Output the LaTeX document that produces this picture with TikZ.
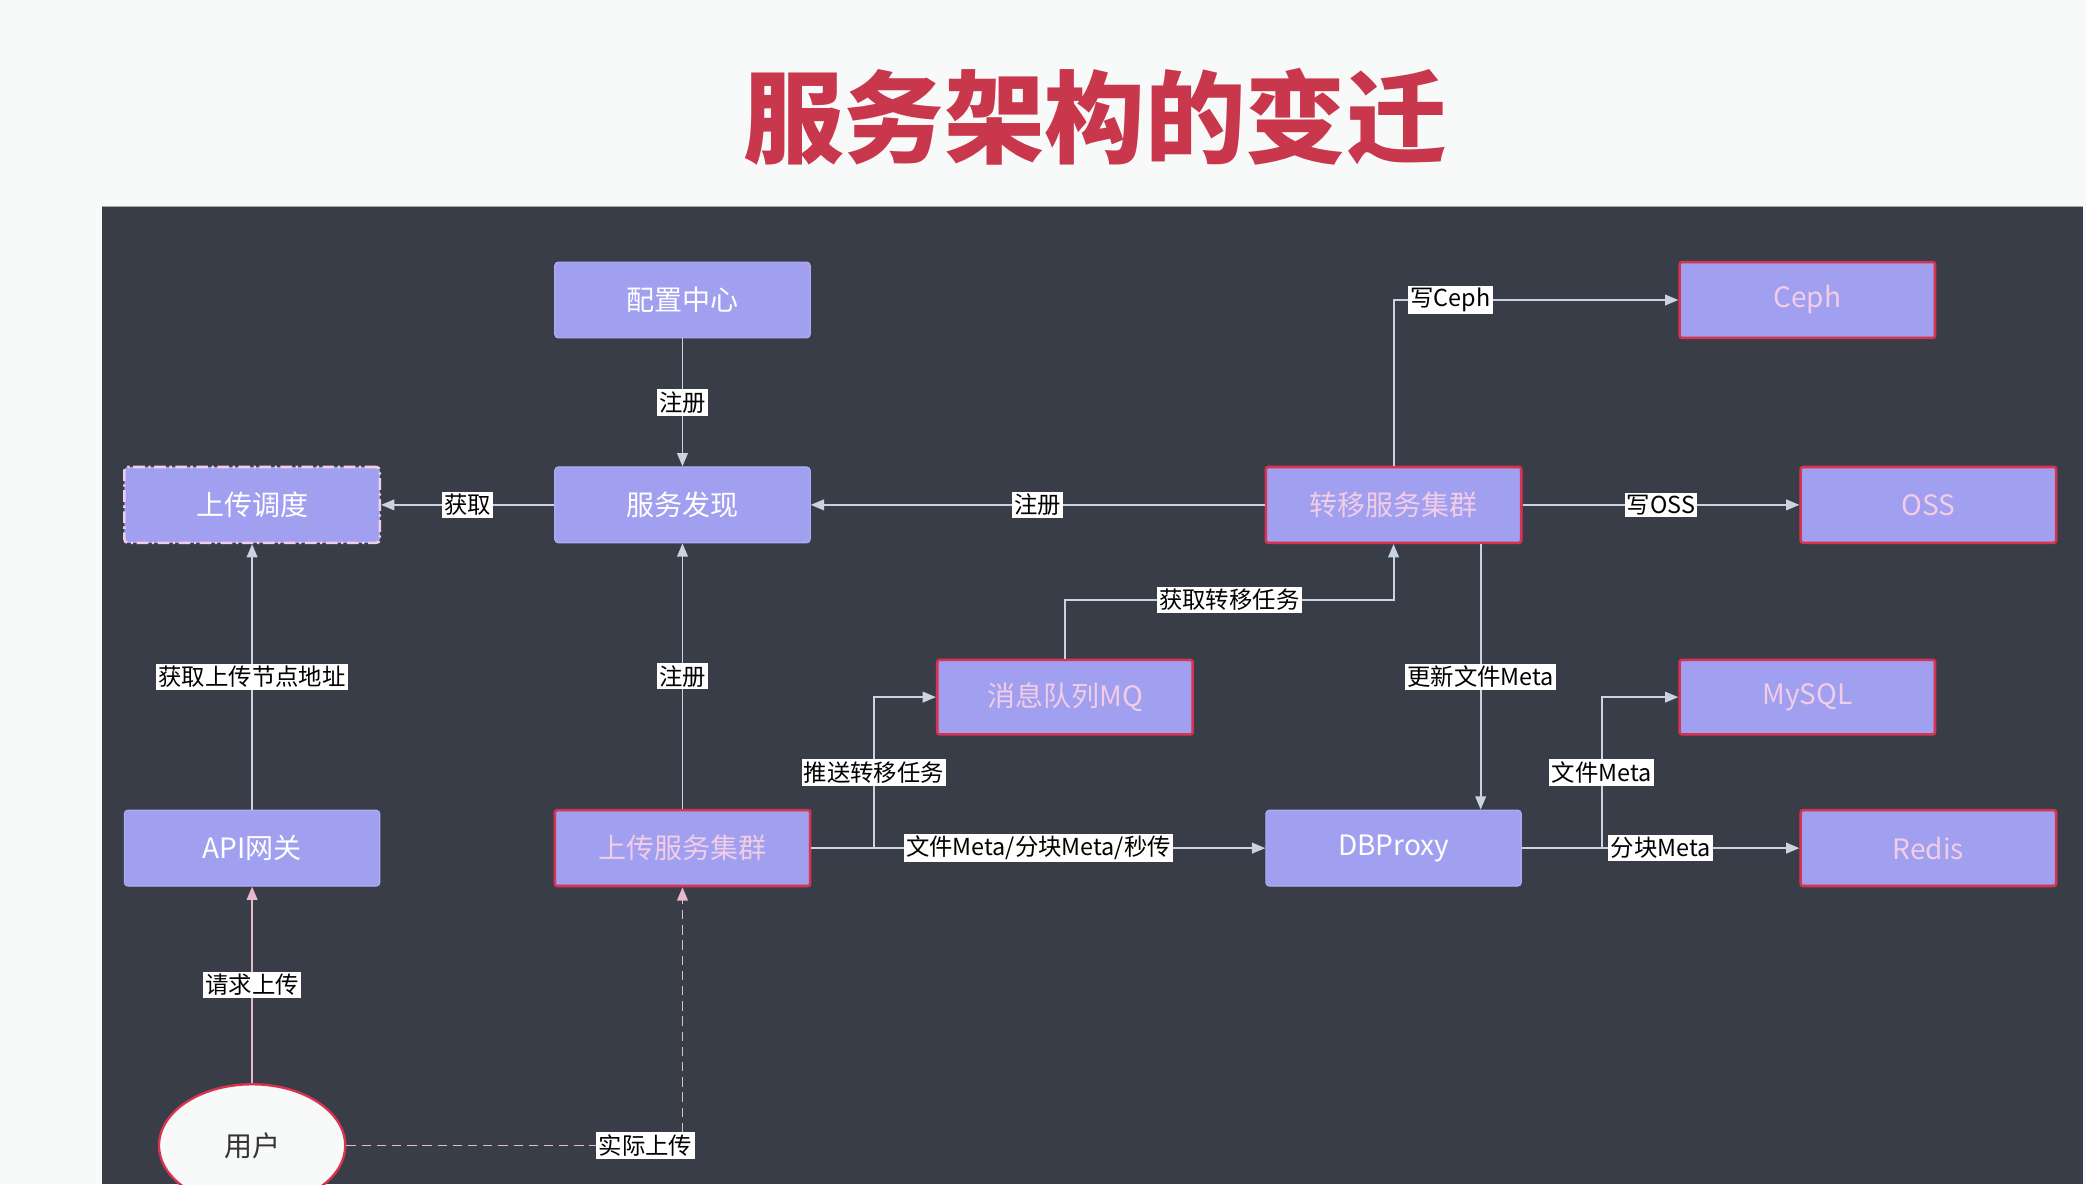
\documentclass[tikz,border=0pt]{standalone}
\usepackage{fontspec}
\setmainfont{Noto Sans CJK SC}
\usepackage{tikz}
\usetikzlibrary{positioning,arrows.meta,calc,shapes.geometric}
\definecolor{panelbg}{HTML}{393D48}
\definecolor{pagebg}{HTML}{F8FAF9}
\definecolor{boxfill}{HTML}{A09FF0}
\definecolor{boxred}{HTML}{D8344F}
\definecolor{boxpink}{HTML}{F2CDE6}
\definecolor{linecol}{HTML}{C9D3E2}
\definecolor{linepink}{HTML}{E6B9CB}
\definecolor{titlered}{HTML}{C8374C}

\begin{document}
\begin{tikzpicture}[
  x=0.02cm, y=-0.02cm,
  svc/.style={draw=boxfill!85!white, line width=0.5pt, rounded corners=1.5pt, fill=boxfill, text=white, minimum width=3.84cm, minimum height=1.14cm, inner sep=0pt, font=\fontsize{12}{14}\selectfont},
  svcr/.style={svc, draw=boxred, line width=1.1pt, rounded corners=1pt, text=boxpink},
  lbl/.style={fill=white, text=black, inner sep=1pt, font=\fontsize{10}{11}\selectfont},
  ar/.style={draw=linecol, line width=0.8pt, -{Triangle[length=2mm,width=1.6mm]}},
  arp/.style={ar, draw=linepink},
]
\clip (0,0) rectangle (1568,890);
\fill[pagebg] (0,0) rectangle (1568,890);
\fill[panelbg] (77,155) rectangle (1566,890);
\draw[gray!70, line width=0.6pt] (77,155) -- (1566,155);
\def\xa{189.5} \def\xb{513} \def\xc{800.5} \def\xd{1047.5} \def\xe{1358.5} \def\xf{1449.5}
\def\ya{225.5} \def\yb{379.5} \def\yc{524} \def\yd{637.5} \def\ye{861}
% title
\node[font=\fontsize{43}{46}\selectfont\bfseries, text=titlered] (title) at (823,88) {服务架构的变迁};
% ---- row a ----
\node[svc] (cfg) at (\xb,\ya) {配置中心};
\node[svcr] (ceph) at (\xe,\ya) {Ceph};
% ---- row b ----
\node[svc, draw=boxpink, line width=1.1pt, dash pattern=on 5pt off 1.5pt on 1pt off 1.5pt] (sched) at (\xa,\yb) {上传调度};
\node[svc] (disc) at (\xb,\yb) {服务发现};
\node[svcr] (xfer) at (\xd,\yb) {转移服务集群};
\node[svcr] (oss) at (\xf,\yb) {OSS};
% ---- row c ----
\node[svcr, minimum height=1.12cm] (mq) at (\xc,\yc) {消息队列MQ};
\node[svcr, minimum height=1.12cm] (mysql) at (\xe,\yc) {MySQL};
% ---- row d ----
\node[svc] (gw) at (\xa,\yd) {API网关};
\node[svcr] (up) at (\xb,\yd) {上传服务集群};
\node[svc] (dbp) at (\xd,\yd) {DBProxy};
\node[svcr] (redis) at (\xf,\yd) {Redis};
% ---- user ----
\node[ellipse, draw=boxred, line width=1pt, fill=pagebg, text=black!80, minimum width=2.8cm, minimum height=1.84cm, font=\fontsize{12}{14}\selectfont] (user) at (\xa,\ye) {用户};
% arrows
\draw[ar] (cfg) -- node[lbl] {注册} (disc);
\draw[ar] (disc) -- node[lbl] {获取} (sched);
\draw[ar] (xfer) -- node[lbl] {注册} (disc);
\draw[ar] (up) -- node[lbl] {注册} (disc);
\draw[ar] (gw) -- node[lbl] {获取上传节点地址} (sched);
\draw[arp] (user) -- node[lbl] {请求上传} (gw);
\draw[arp, dash pattern=on 4pt off 2.5pt] (user) -- node[lbl, pos=0.89] {实际上传} (user -| up) -- (up);
\draw[ar] (up.east) -- ++(47,0) |- node[lbl, pos=0.25] {推送转移任务} (mq);
\draw[ar] (up) -- node[lbl] {文件Meta/分块Meta/秒传} (dbp);
\draw[ar] (mq.north) -- ++(0,-44) -| node[lbl, pos=0.25] {获取转移任务} (xfer.south);
\draw[ar] (xfer.north) |- node[lbl, pos=0.6] {写Ceph} (ceph);
\draw[ar] (xfer) -- node[lbl] {写OSS} (oss);
\draw[ar] ([xshift=1.31cm]xfer.south) -- node[lbl] {更新文件Meta} ([xshift=1.31cm]dbp.north);
\draw[ar] (dbp.east) -- ++(60,0) |- node[lbl, pos=0.25] {文件Meta} (mysql);
\draw[ar] (dbp) -- node[lbl] {分块Meta} (redis);
\end{tikzpicture}
\end{document}
